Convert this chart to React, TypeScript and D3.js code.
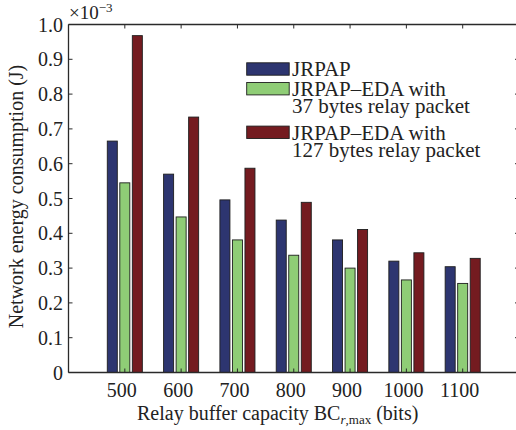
import React from "react";
import * as d3 from "d3";

const categories = ["500", "600", "700", "800", "900", "1000", "1100"];
const jrpap = [0.665, 0.57, 0.496, 0.438, 0.381, 0.32, 0.304];
const eda37 = [0.545, 0.447, 0.381, 0.337, 0.3, 0.266, 0.256];
const eda127 = [0.968, 0.734, 0.587, 0.489, 0.411, 0.344, 0.328];
const seriesNames = [
  ["JRPAP"],
  ["JRPAP\u2013EDA with", "37 bytes relay packet"],
  ["JRPAP\u2013EDA with", "127 bytes relay packet"],
];
const colors = ["#2d3570", "#8fcd76", "#741b20"];
const yTicks = d3.range(0, 1.01, 0.1);

const W = 516;
const H = 430;
const L = 68.5, R = 519, T = 24.5, B = 372.5;
const FONT = "Liberation Serif, DejaVu Serif, serif";

export default function App() {
  const x = d3.scaleLinear().domain([0, 8]).range([L, R]);
  const y = d3.scaleLinear().domain([0, 1]).range([B, T]);
  const series = [jrpap, eda37, eda127];
  const spacing = 0.667 / 3;
  const bw = x(0.8 * spacing) - x(0);
  const axisColor = "#2a2a2a";

  const legendRows = [
    { sy: 69, lines: [76] },
    { sy: 88.7, lines: [95.5, 113] },
    { sy: 132.3, lines: [139.5, 157] },
  ];

  return (
    <svg width={W} height={H} style={{ position: "absolute", left: 0, top: 0, background: "#fff", fontFamily: FONT }}>
      <rect x={0} y={0} width={W} height={H} fill="#fff" />
      {series.map((vals, s) =>
        vals.map((v, i) => {
          const cx = x(i + 1 + (s - 1) * spacing);
          return (
            <rect
              key={`${s}-${i}`}
              x={cx - bw / 2}
              y={y(v)}
              width={bw}
              height={y(0) - y(v)}
              fill={colors[s]}
              stroke="#1e1e1e"
              strokeWidth={0.9}
            />
          );
        })
      )}
      <line x1={L} x2={L} y1={T} y2={B} stroke={axisColor} strokeWidth={1.3} />
      <line x1={R} x2={R} y1={T} y2={B} stroke={axisColor} strokeWidth={1.3} />
      <line x1={L} x2={R} y1={T} y2={T} stroke={axisColor} strokeWidth={1.3} />
      <line x1={L} x2={R} y1={B} y2={B} stroke={axisColor} strokeWidth={1.6} />
      {yTicks.map((t, i) => (
        <g key={i}>
          <line x1={L} x2={L + 4} y1={y(t)} y2={y(t)} stroke={axisColor} strokeWidth={1} />
          <line x1={R - 4} x2={R} y1={y(t)} y2={y(t)} stroke={axisColor} strokeWidth={1} />
          <text x={63} y={y(t) + 7} textAnchor="end" fontSize={20} fill="#222" style={{ fontFamily: FONT }}>
            {i === 0 ? "0" : d3.format(".1f")(t)}
          </text>
        </g>
      ))}
      {categories.map((c, i) => (
        <g key={c}>
          <line x1={x(i + 1)} x2={x(i + 1)} y1={T} y2={T + 4} stroke={axisColor} strokeWidth={1} />
          <line x1={x(i + 1)} x2={x(i + 1)} y1={B - 4} y2={B} stroke={axisColor} strokeWidth={1} />
          <text x={x(i + 1) - 3} y={396.5} textAnchor="middle" fontSize={20} fill="#222" style={{ fontFamily: FONT }}>
            {c}
          </text>
        </g>
      ))}
      <text x={69} y={19} fontSize={19} fill="#222" style={{ fontFamily: FONT }}>
        ×10<tspan fontSize={13} dy={-7}>−3</tspan>
      </text>
      <text x={137} y={420} fontSize={20} fill="#222" style={{ fontFamily: FONT }}>
        Relay buffer capacity BC
        <tspan fontSize={13} dy={4} fontStyle="italic">r</tspan>
        <tspan fontSize={13}>,max</tspan>
        <tspan dy={-4}> (bits)</tspan>
      </text>
      <text transform={`translate(23,${(T + B) / 2 - 2}) rotate(-90)`} textAnchor="middle" fontSize={20} fill="#222" style={{ fontFamily: FONT }}>
        Network energy consumption (J)
      </text>
      {legendRows.map((row, s) => (
        <g key={s}>
          <rect x={246.7} y={row.sy - 6.2} width={42.5} height={12.4} fill={colors[s]} stroke="#1e1e1e" strokeWidth={0.9} />
          {seriesNames[s].map((ln, k) => (
            <text key={k} x={292} y={row.lines[k]} fontSize={21} fill="#222" style={{ fontFamily: FONT }}>
              {ln}
            </text>
          ))}
        </g>
      ))}
    </svg>
  );
}
